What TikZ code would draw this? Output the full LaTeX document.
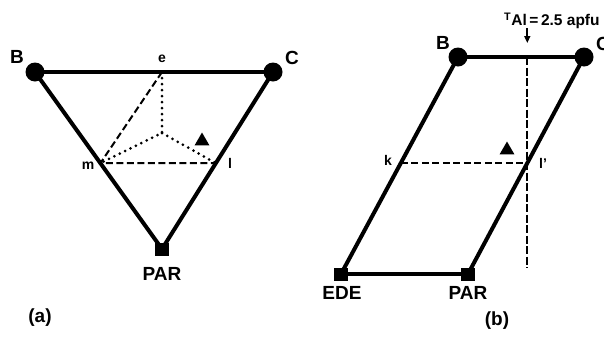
\documentclass[tikz,border=0pt]{standalone}
\usepackage{fontspec}
\setmainfont{Liberation Sans}
\usetikzlibrary{calc,shapes.geometric,arrows.meta}
\begin{document}
\begin{tikzpicture}[x=1pt,y=-1pt,
  thickline/.style={line width=4pt, line cap=round, line join=round},
  thinline/.style={line width=3.2pt, line cap=round},
  bigdot/.style={circle, fill, inner sep=0pt, minimum size=19pt},
  sqmark/.style={rectangle, fill, inner sep=0pt, minimum width=14pt, minimum height=13pt},
  trimark/.style={regular polygon, regular polygon sides=3, fill, inner sep=0pt, minimum size=17pt},
  dashline/.style={line width=2pt, dash pattern=on 7pt off 3.5pt},
  vdash/.style={line width=1.6pt, dash pattern=on 8pt off 2.5pt},
  dotline/.style={line width=3pt, line cap=round, dash pattern=on 0pt off 6pt},
  biglabel/.style={font=\bfseries\fontsize{19}{19}\selectfont, inner sep=0pt},
  smalllabel/.style={font=\bfseries\fontsize{14}{14}\selectfont, inner sep=0pt},
  paneltag/.style={font=\bfseries\fontsize{19}{19}\selectfont, inner sep=0pt}]
\useasboundingbox (0,0) rectangle (604,362);
% ---------- panel (a) ----------
\coordinate (aB) at (35,72);
\coordinate (aC) at (273,72);
\coordinate (aP) at (162,249);
\coordinate (e) at (162,72);
\coordinate (m) at ($(aB)!0.515!(aP)$);
\coordinate (l) at ($(aC)!0.515!(aP)$);
\coordinate (o) at (162,133);
\draw[thickline] (aB) -- (aC);
\draw[thickline] (aB) -- (aP) -- (aC);
\draw[dashline] (e) -- (m) -- (l);
\draw[dotline] (e) -- (o) -- (m) (o) -- (l);
\node[bigdot] (Bdot) at (aB) {};
\node[bigdot] (Cdot) at (aC) {};
\node[sqmark] (PARsq) at (aP) {};
\node[trimark] (tria) at (202,141) {};
\node[biglabel] (Blab) at (17,57) {B};
\node[biglabel] (Clab) at (292,58) {C};
\node[smalllabel] (elab) at (162,59) {e};
\node[smalllabel] (mlab) at (88,166) {m};
\node[smalllabel] (llab) at (230,163) {l};
\node[biglabel] (PARlab) at (162,274) {PAR};
\node[paneltag] (atag) at (40,318) {(a)};
% ---------- panel (b) ----------
\coordinate (bB) at (458,57);
\coordinate (bC) at (584,57);
\coordinate (bE) at (341,274);
\coordinate (bP) at (468,274);
\coordinate (k) at ($(bE)!0.511!(bB)$);
\coordinate (lp) at ($(bP)!0.511!(bC)$);
\coordinate (vtop) at (lp |- bB);
\coordinate (vbot) at ($(lp)+(0,105)$);
\coordinate (arrtop) at ($(vtop)+(0,-29)$);
\coordinate (arrtip) at ($(vtop)+(0,-14)$);
\draw[thinline] (bB) -- (bC);
\draw[thinline] (bE) -- (bP);
\draw[thickline] (bE) -- (bB);
\draw[thickline] (bP) -- (bC);
\draw[vdash] (vtop) -- (vbot);
\draw[dashline] (k) -- (lp);
\draw[line width=1.6pt, -{Triangle[length=7pt,width=6pt]}] (arrtop) -- (arrtip);
\node[bigdot] (Bdotb) at (bB) {};
\node[bigdot] (Cdotb) at (bC) {};
\node[sqmark] (EDEsq) at (bE) {};
\node[sqmark] (PARsqb) at (bP) {};
\node[trimark] (trib) at (507,150) {};
\node[biglabel] (Blabb) at (443,43) {B};
\node[biglabel, anchor=west] (Clabb) at (596,44) {C};
\node[smalllabel] (klab) at (388,160) {k};
\node[smalllabel] (lplab) at (543,163) {l'};
\node[font=\bfseries\fontsize{15.5}{15.5}\selectfont, inner sep=0pt, anchor=west] (TAl) at (504,21) {\textsuperscript{T}Al\,=\,2.5 apfu};
\node[biglabel] (EDElab) at (342,293) {EDE};
\node[biglabel] (PARlabb) at (468,293) {PAR};
\node[paneltag] (btag) at (497,321) {(b)};
\end{tikzpicture}
\end{document}
